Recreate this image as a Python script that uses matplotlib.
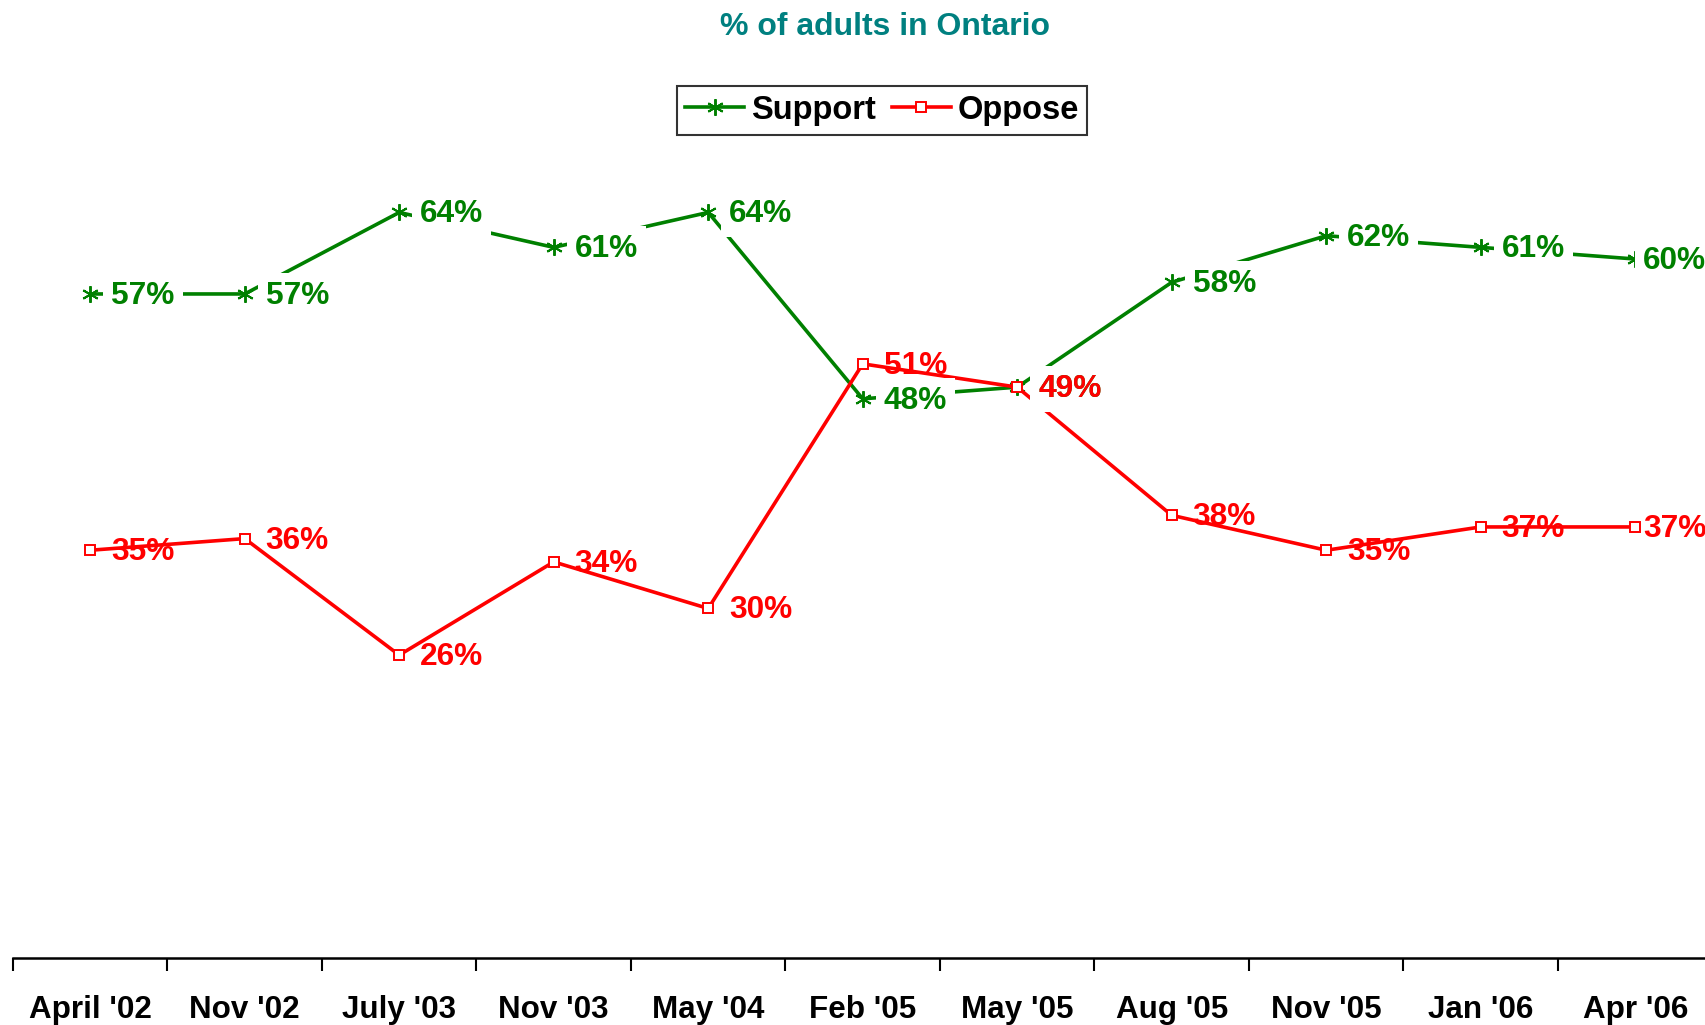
import matplotlib
matplotlib.use("Agg")
import matplotlib.pyplot as plt
import numpy as np

plt.rcParams['font.family'] = ['Liberation Sans', 'DejaVu Sans']

periods = ["April '02", "Nov '02", "July '03", "Nov '03", "May '04", "Feb '05",
           "May '05", "Aug '05", "Nov '05", "Jan '06", "Apr '06"]
support = [57, 57, 64, 61, 64, 48, 49, 58, 62, 61, 60]
oppose = [35, 36, 26, 34, 30, 51, 49, 38, 35, 37, 37]

green = '#008000'
red = '#FF0000'

fig = plt.figure(figsize=(17.06, 10.25), dpi=100)
ax = fig.add_axes([0.0076, 0.0654, 0.9962, 0.9092])
x = np.arange(len(periods))

ax.plot(x, support, color=green, lw=2.6, marker=(6, 2, 0), ms=12, mew=1.4,
        label='Support', zorder=2)
ax.plot(x, oppose, color=red, lw=2.6, marker='s', ms=7.5, mfc='white', mew=1.4,
        label='Oppose', zorder=2)

# data labels (green ones have a white fill, red ones don't)
for i, v in enumerate(support):
    dx = 21 if i < len(x) - 1 else 8
    ax.annotate(f"{v}%", (i, v), xytext=(dx, -2), textcoords='offset pixels',
                ha='left', va='center', fontsize=22.8, fontweight='bold', color=green,
                bbox=dict(boxstyle='square,pad=0.25', fc='white', ec='none'), zorder=4)
for i, v in enumerate(oppose):
    dx = 21 if i < len(x) - 1 else 8
    ax.annotate(f"{v}%", (i, v), xytext=(dx, -2), textcoords='offset pixels',
                ha='left', va='center', fontsize=22.8, fontweight='bold', color=red,
                zorder=5)

ax.set_xlim(-0.5, len(x) - 0.5)
ax.set_ylim(0, 80)
ax.set_yticks([])
for s in ['left', 'right', 'top']:
    ax.spines[s].set_visible(False)
ax.spines['bottom'].set_linewidth(1.8)

ax.set_xticks(x)
ax.set_xticklabels(periods, fontsize=22.6, fontweight='bold')
ax.tick_params(axis='x', which='major', length=0, pad=27)
ax.set_xticks(np.arange(-0.5, len(x), 1), minor=True)
ax.tick_params(axis='x', which='minor', length=9.5, width=1.5, direction='out')

fig.text(0.519, 0.9738, '% of adults in Ontario', ha='center', va='center',
         fontsize=23, fontweight='bold', color='#008080')

leg = fig.legend(loc='center', bbox_to_anchor=(0.517, 0.8925), ncol=2,
                 prop={'weight': 'bold', 'size': 23.5}, frameon=True, fancybox=False,
                 handlelength=1.8, handletextpad=0.2, columnspacing=0.5,
                 borderpad=0.27, borderaxespad=0)
leg.get_frame().set_edgecolor('black')
leg.get_frame().set_linewidth(1.5)

fig.savefig('out.png', dpi=100)
